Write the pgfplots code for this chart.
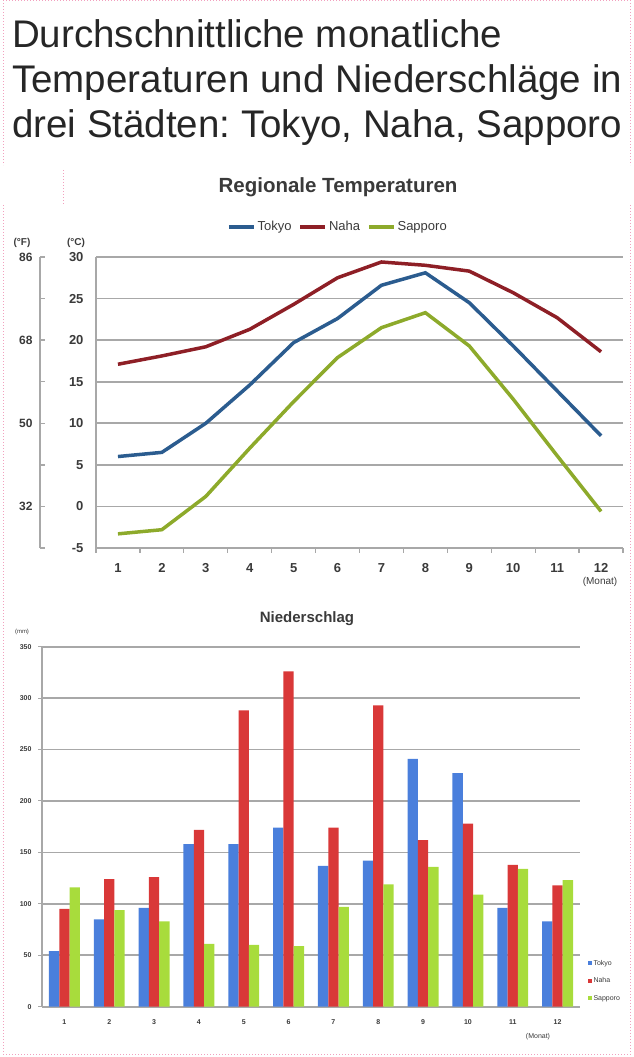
\documentclass[border=0pt]{standalone}
\usepackage{fontspec}
\setmainfont{Liberation Sans}
\usepackage{pgfplots}
\pgfplotsset{compat=1.18}
\usepackage{pgfplotstable}

\definecolor{tokyoL}{HTML}{2B5C8F}
\definecolor{nahaL}{HTML}{8E1F26}
\definecolor{sappL}{HTML}{8DAA2B}
\definecolor{gridc}{HTML}{A8A8A8}
\definecolor{txt}{HTML}{3A3A3A}
\definecolor{tokB}{HTML}{4A7FDC}
\definecolor{nahB}{HTML}{D93838}
\definecolor{sapB}{HTML}{A8DC3C}
\definecolor{pinkd}{HTML}{F2A0BE}

\newcommand{\fs}[1]{\fontsize{#1}{#1}\selectfont}

\pgfplotstableread{
m tokyo naha sapporo
1 6.0 17.1 -3.3
2 6.5 18.1 -2.8
3 10.0 19.2 1.2
4 14.6 21.3 7.0
5 19.7 24.3 12.6
6 22.6 27.5 17.9
7 26.6 29.4 21.5
8 28.1 29.0 23.3
9 24.5 28.3 19.3
10 19.3 25.7 12.9
11 13.9 22.7 6.1
12 8.5 18.6 -0.6
}\temps

\pgfplotstableread{
m tokyo naha sapporo
1 54 95 116
2 85 124 94
3 96 126 83
4 158 172 61
5 158 288 60
6 174 326 59
7 137 174 97
8 142 293 119
9 241 162 136
10 227 178 109
11 96 138 134
12 83 118 123
}\rain

\begin{document}
\frenchspacing
\begin{tikzpicture}[x=1pt,y=1pt]
\path[use as bounding box] (0,0) rectangle (633,1057);

% pink dotted frames
\draw[pinkd, dotted, line width=1pt] (3,1057) -- (3,892);
\draw[pinkd, dotted, line width=1pt] (630,1057) -- (630,892);
\draw[pinkd, dotted, line width=1pt] (3,1056) -- (630,1056);
\draw[pinkd, dotted, line width=1pt] (63,887) -- (63,852);
\draw[pinkd, dotted, line width=1pt] (3,852) -- (3,2);
\draw[pinkd, dotted, line width=1pt] (630,852) -- (630,2);
\draw[pinkd, dotted, line width=1pt] (3,2) -- (630,2);

% main title
\node[anchor=base west, inner sep=0pt, text=black!85] at (12,1057-48) {\fs{38.5}Durchschnittliche monatliche};
\node[anchor=base west, inner sep=0pt, text=black!85] at (12,1057-93) {\fs{38.5}Temperaturen und Niederschläge in};
\node[anchor=base west, inner sep=0pt, text=black!85] at (12,1057-138) {\fs{38.5}drei Städten: Tokyo, Naha, Sapporo};

% ---------- temperature chart ----------
\node[anchor=base, inner sep=0pt, text=txt] at (338,1057-193) {\fs{20.5}\bfseries Regionale Temperaturen};
\node[inner sep=0pt, text=txt] at (22,1057-243) {\fs{10}\bfseries (°F)};
\node[inner sep=0pt, text=txt] at (76,1057-243) {\fs{10}\bfseries (°C)};
\node[inner sep=0pt, text=txt] at (600,1057-582) {\fs{10}(Monat)};

\begin{axis}[
  at={(40pt,509pt)}, anchor=south west, scale only axis,
  width=20pt, height=291pt,
  xmin=0, xmax=1, ymin=-5, ymax=30,
  hide x axis, axis y line*=left,
  ytick={-5,0,...,30}, yticklabels={,32,,50,,68,,86},
  tick align=inside, major tick length=5pt,
  axis line style={gridc, line width=1.5pt},
  ytick style={gridc, line width=1.5pt},
  yticklabel style={font=\fs{12}\bfseries, text=txt, xshift=-4pt},
]
\end{axis}

\begin{axis}[
  at={(96pt,509pt)}, anchor=south west, scale only axis,
  width=527pt, height=291pt,
  xmin=0.5, xmax=12.5, ymin=-5, ymax=30,
  axis x line*=bottom, axis y line*=left,
  axis line style={gridc, line width=1.5pt},
  ytick={-5,0,...,30}, ytick style={draw=none},
  xtick={1,...,12}, minor xtick={0.5,1.5,...,12.5},
  major tick length=0pt, minor tick length=5pt, tick align=outside,
  minor tick style={gridc, line width=1.2pt},
  ymajorgrids, grid style={gridc, line width=1.8pt},
  /pgf/number format/assume math mode=true,
  ticklabel style={font=\fs{13}\bfseries, text=txt},
  yticklabel style={xshift=-9pt},
  xticklabel style={yshift=-12pt},
  legend style={at={(0.459,1.103)}, anchor=center, draw=none, fill=none,
    legend columns=3, font=\fs{13}, text=txt,
    /tikz/every even column/.append style={column sep=5pt}},
  legend image code/.code={\draw[#1, line width=3.5pt] (0pt,0pt) -- (25pt,0pt);},
]
\addplot[tokyoL, line width=3.5pt] table[x=m, y=tokyo] {\temps};
\addlegendentry{Tokyo}
\addplot[nahaL, line width=3.5pt] table[x=m, y=naha] {\temps};
\addlegendentry{Naha}
\addplot[sappL, line width=3.5pt] table[x=m, y=sapporo] {\temps};
\addlegendentry{Sapporo}
\end{axis}

% ---------- precipitation chart ----------
\node[anchor=base, inner sep=0pt, text=txt] at (307,1057-623) {\fs{15}\bfseries Niederschlag};
\node[inner sep=0pt, text=txt] at (22,1057-632) {\fs{6}(mm)};
\node[inner sep=0pt, text=txt] at (538,1057-1037) {\fs{7}(Monat)};

\begin{axis}[
  at={(42pt,50.3pt)}, anchor=south west, scale only axis,
  width=538pt, height=360pt,
  xmin=0.5, xmax=12.5, ymin=0, ymax=350,
  ybar=0pt, bar width=10.3pt,
  axis x line*=bottom, axis y line*=left,
  axis line style={gridc, line width=1.5pt},
  ytick={0,50,...,350},
  xtick={1,...,12}, minor xtick={0.5,1.5,...,12.5},
  xtick style={draw=none},
  minor tick style={gridc, line width=1pt, draw=gridc},
  ytick style={gridc, line width=1pt},
  major tick length=4pt, minor tick length=4pt, tick align=outside,
  ymajorgrids, grid style={gridc, line width=1.8pt},
  /pgf/number format/assume math mode=true,
  ticklabel style={font=\fs{7}\bfseries, text=txt},
  yticklabel style={xshift=-3pt},
  xticklabel style={yshift=-5pt},
  legend style={at={(1.008,0.072)}, anchor=west, draw=none, fill=none,
    font=\fs{7}, text=txt, row sep=7pt, legend cell align=left},
  legend image code/.code={\fill[#1] (0pt,-2pt) rectangle (4pt,2pt);},
]
\addplot[draw=none, fill=tokB] table[x=m, y=tokyo] {\rain};
\addlegendentry{Tokyo}
\addplot[draw=none, fill=nahB] table[x=m, y=naha] {\rain};
\addlegendentry{Naha}
\addplot[draw=none, fill=sapB] table[x=m, y=sapporo] {\rain};
\addlegendentry{Sapporo}
\end{axis}
\end{tikzpicture}
\end{document}
